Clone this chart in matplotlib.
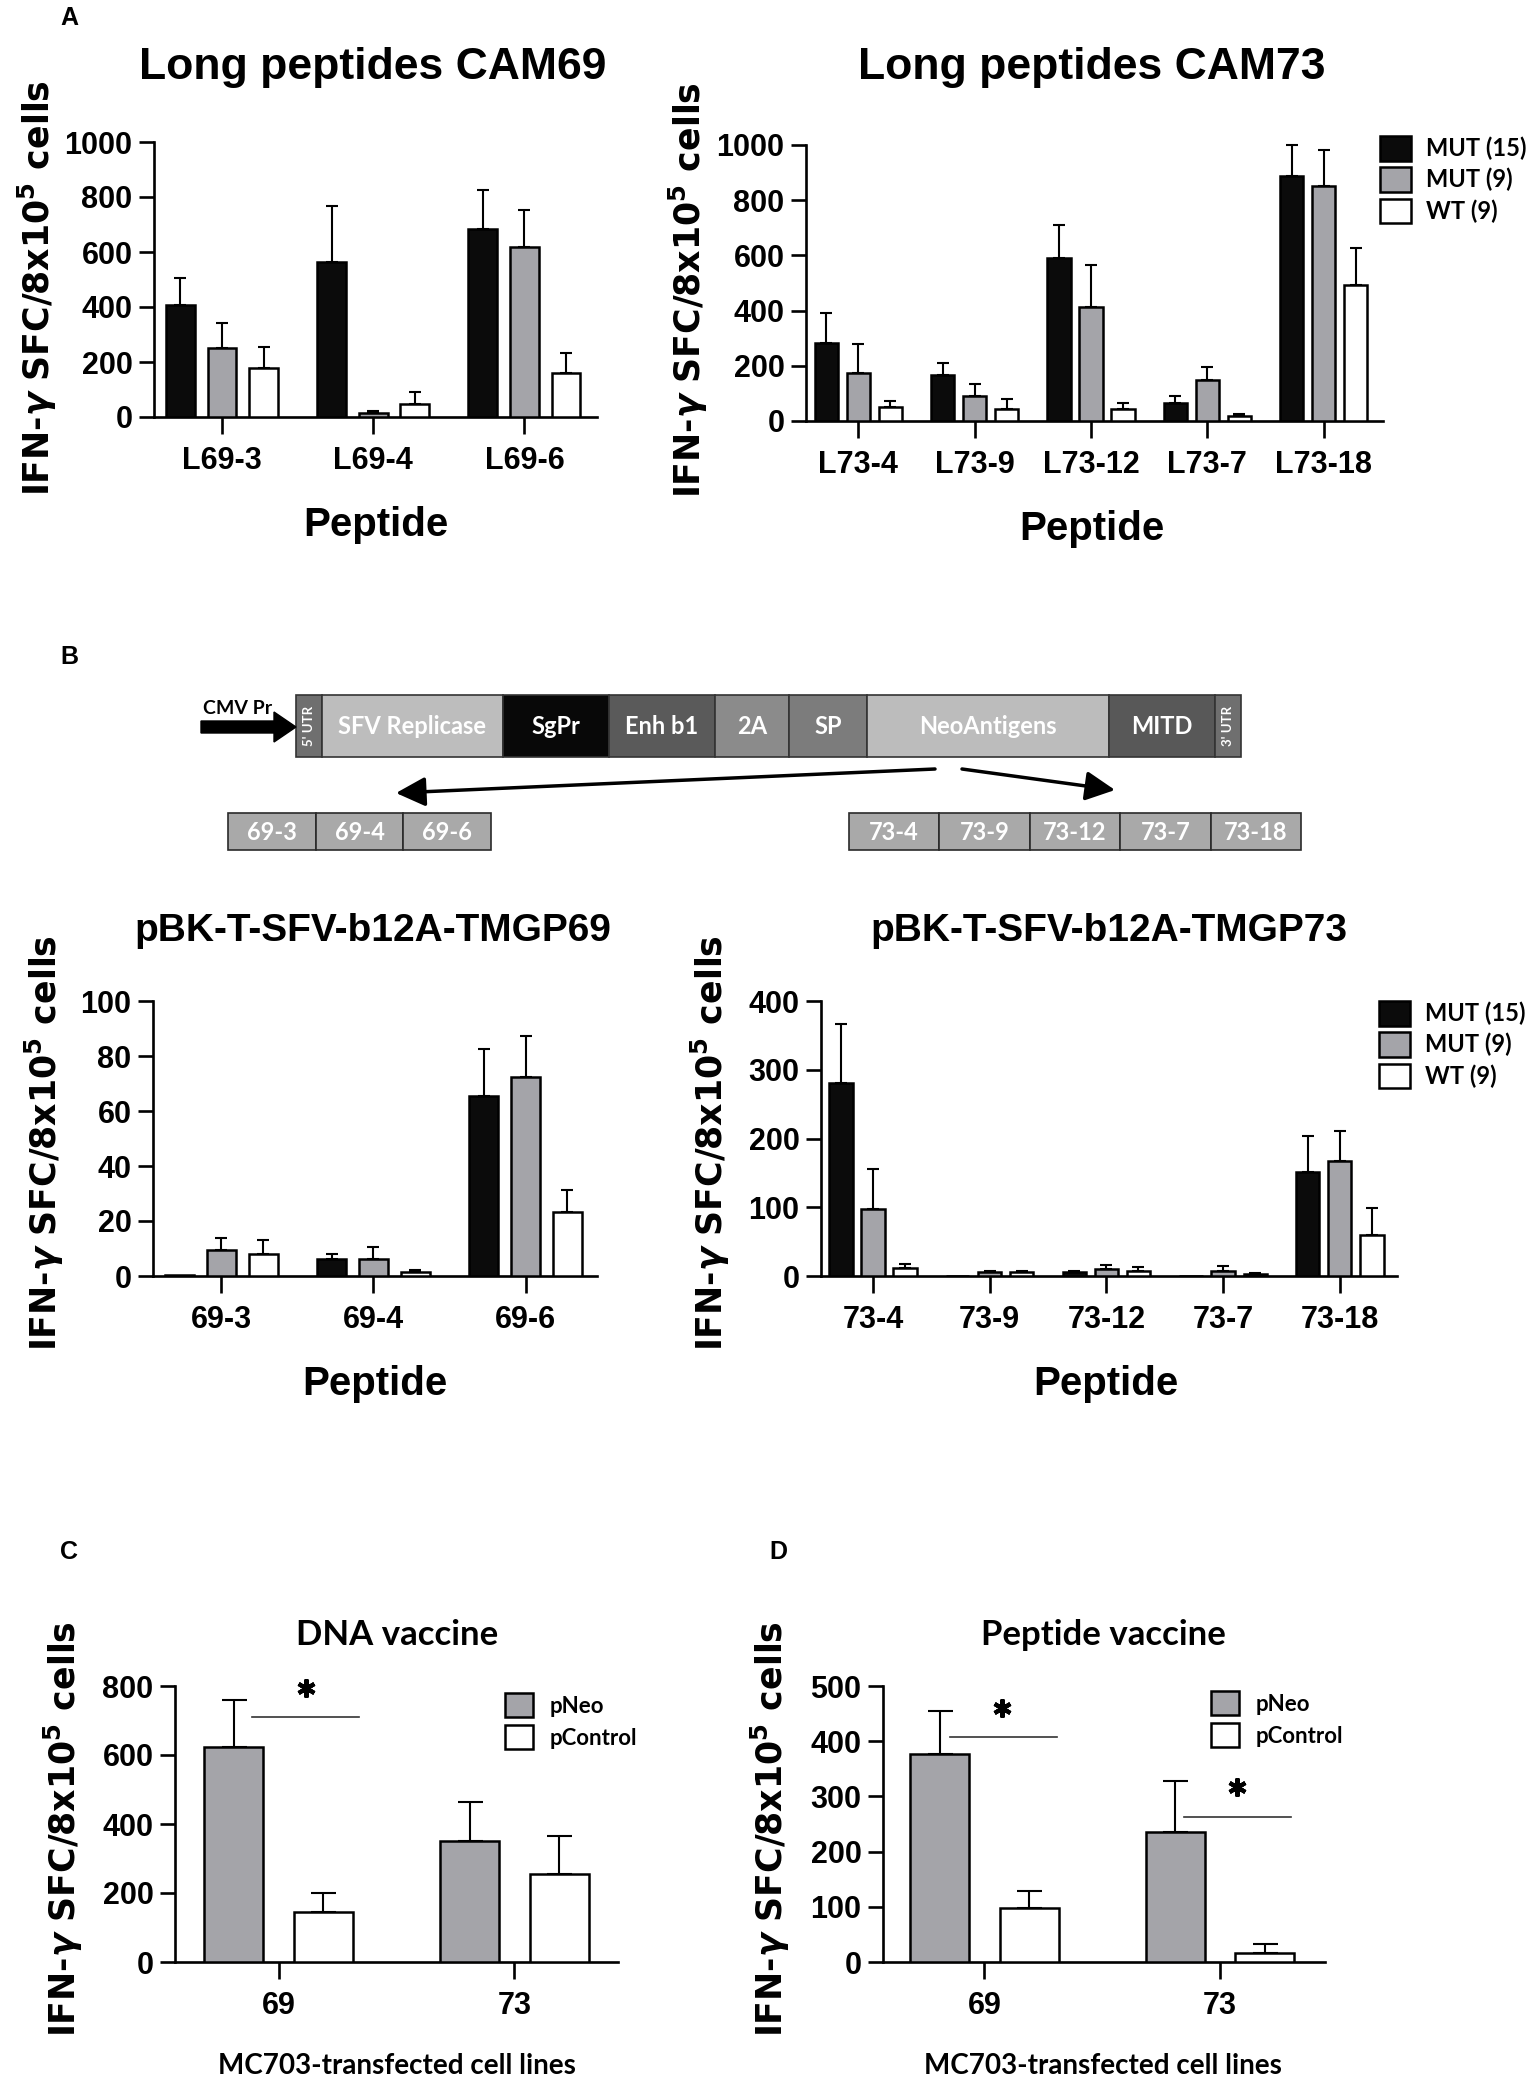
import numpy as np
import matplotlib
matplotlib.use('Agg')
from matplotlib import pyplot as plt
from matplotlib import font_manager
from matplotlib.patches import Rectangle

W, H = 1535, 2075
ARIAL = 'Liberation Sans'
WIDE = 'DejaVu Sans'


def bold_file(cands):
    # path of a real bold face of the first installed family in cands
    for c in cands:
        for f in font_manager.fontManager.ttflist:
            base = f.fname.split('/')[-1].lower()
            if f.name == c and 'bold' in base and 'italic' not in base \
                    and 'semi' not in base and 'extra' not in base:
                return f.fname
    return None


_cal = bold_file(['Lato', 'Open Sans', 'Noto Sans', 'Roboto'])


def cal(size):
    if _cal:
        return font_manager.FontProperties(fname=_cal, size=size)
    return font_manager.FontProperties(family=ARIAL, weight='bold', size=size)


plt.rcParams['font.family'] = [ARIAL, 'DejaVu Sans']
plt.rcParams['font.weight'] = 'bold'

# ---- data -------------------------------------------------------------
series_names = ['MUT (15)', 'MUT (9)', 'WT (9)']

# A: long peptides
a69_labels = ['L69-3', 'L69-4', 'L69-6']
a69_mut15 = [406, 562, 682]
a69_mut15_sem = [100, 205, 145]
a69_mut9 = [250, 13, 620]
a69_mut9_sem = [91, 10, 134]
a69_wt9 = [179, 47, 160]
a69_wt9_sem = [75, 44, 71]

a73_labels = ['L73-4', 'L73-9', 'L73-12', 'L73-7', 'L73-18']
a73_mut15 = [282, 168, 592, 65, 887]
a73_mut15_sem = [110, 42, 117, 27, 113]
a73_mut9 = [175, 91, 414, 150, 850]
a73_mut9_sem = [104, 42, 150, 45, 133]
a73_wt9 = [49, 45, 43, 17, 492]
a73_wt9_sem = [22, 34, 22, 9, 133]

# B: DNA constructs
b69_labels = ['69-3', '69-4', '69-6']
b69_mut15 = [0.3, 6.2, 65.6]
b69_mut15_sem = [0, 1.9, 16.9]
b69_mut9 = [9.4, 6.2, 72.5]
b69_mut9_sem = [4.5, 4.3, 14.8]
b69_wt9 = [7.9, 1.4, 23.1]
b69_wt9_sem = [5.1, 0.8, 8.1]

b73_labels = ['73-4', '73-9', '73-12', '73-7', '73-18']
b73_mut15 = [281, 0, 5.3, 0, 151]
b73_mut15_sem = [85, 0, 1.5, 0, 53]
b73_mut9 = [97, 5.5, 10, 7.7, 168]
b73_mut9_sem = [59, 2.5, 6, 6.8, 43]
b73_wt9 = [12, 6, 7.7, 3, 60]
b73_wt9_sem = [5.4, 2, 5.3, 1.3, 39]

# C / D: vaccines
cd_labels = ['69', '73']
cd_names = ['pNeo', 'pControl']
c_pneo = [624, 351]
c_pneo_sem = [135, 114]
c_pcontrol = [146, 256]
c_pcontrol_sem = [54, 110]
d_pneo = [377, 235]
d_pneo_sem = [77, 92]
d_pcontrol = [97, 16]
d_pcontrol_sem = [32, 16]

# significance bars: (start, end, y) in axis units, star (x, y)
c_sig = [(-0.115, 0.34, 711)]
c_star = [(0.115, 794)]
d_sig = [(-0.144, 0.31, 408), (0.847, 1.30, 262)]
d_star = [(0.076, 461), (1.072, 317)]

# construct diagram
seg_labels = ["5' UTR", 'SFV Replicase', 'SgPr', 'Enh b1', '2A', 'SP',
              'NeoAntigens', 'MITD', "3' UTR"]
seg_edges = [296, 322, 503, 609, 715, 789, 867, 1109, 1215, 1241]
seg_colors = ['#6f6f6f', '#bdbdbd', '#080808', '#5a5a5a', '#8b8b8b',
              '#7c7c7c', '#bcbcbc', '#585858', '#6f6f6f']

BLACK = '#0b0b0b'
GRAY = '#a4a4a9'
WHITE = '#ffffff'

fig = plt.figure(figsize=(W / 100, H / 100), dpi=100)
bg = fig.add_axes([0, 0, 1, 1], zorder=0)
bg.set_xlim(0, W)
bg.set_ylim(H, 0)
bg.axis('off')


def px_axes(x0, x1, ytop, ybot):
    return fig.add_axes([x0 / W, 1 - ybot / H, (x1 - x0) / W, (ybot - ytop) / H], zorder=2)


def bar_panel(ax, labels, means, sems, colors, offsets, width, ymax, ystep, xlim, cap):
    x = np.arange(len(labels))
    bars = []
    for m, s, c, off in zip(means, sems, colors, offsets):
        m = np.asarray(m, float)
        s = np.asarray(s, float)
        b = ax.bar(x + off, m, width, color=c, edgecolor='black', linewidth=1.8, zorder=3)
        bars.append(b)
        k = s > 0
        ax.errorbar(x[k] + off, m[k], yerr=[np.zeros(k.sum()), s[k]], fmt='none',
                    ecolor='black', elinewidth=1.5, capsize=cap, capthick=1.5,
                    zorder=2, clip_on=False)
    ax.set_xlim(*xlim)
    ax.set_ylim(0, ymax)
    ax.set_yticks(np.arange(0, ymax + 1, ystep))
    ax.set_xticks(x)
    ax.set_xticklabels(labels)
    for sp in ['top', 'right']:
        ax.spines[sp].set_visible(False)
    for sp in ['left', 'bottom']:
        ax.spines[sp].set_linewidth(1.9)
    ax.tick_params(axis='y', length=10.5, width=1.9, pad=5, labelsize=22)
    ax.tick_params(axis='x', length=12, width=1.9, pad=9, labelsize=22)
    ax.patch.set_alpha(0)
    return bars


def add_legend(ax, bars, names, x, y, fs, hl, hh, ls, tp):
    ax.legend(bars, names, loc='upper left', bbox_to_anchor=(x / W, 1 - y / H),
              bbox_transform=fig.transFigure, frameon=False, borderpad=0,
              borderaxespad=0, handlelength=hl, handleheight=hh, labelspacing=ls,
              handletextpad=tp, prop=cal(fs))


YLAB = r'IFN-$\gamma$ SFC/8x10$^{\mathbf{5}}$ cells'


def ylab(x, y):
    bg.text(x, y, YLAB, rotation=90, ha='center', va='center', family=WIDE,
            weight='bold', fontsize=25)


def title(x, y, s, fs):
    bg.text(x, y, s, ha='center', va='center', fontsize=fs, weight='bold', family=ARIAL)


def ctext(x, y, s, fs, **kw):
    bg.text(x, y, s, ha='center', va='center', fontproperties=cal(fs), **kw)


def letter(x, y, s):
    bg.text(x, y, s, fontsize=18, weight='bold', ha='center', va='center')


colors3 = [BLACK, GRAY, WHITE]
off3 = [-0.275, 0, 0.275]

# ---- panel A ----------------------------------------------------------
ax = px_axes(154, 597, 142, 417)
bar_panel(ax, a69_labels, [a69_mut15, a69_mut9, a69_wt9],
          [a69_mut15_sem, a69_mut9_sem, a69_wt9_sem], colors3, off3, 0.19,
          1000, 200, (-0.45, 2.48), 4)
ax = px_axes(806, 1383, 145, 421)
bars = bar_panel(ax, a73_labels, [a73_mut15, a73_mut9, a73_wt9],
                 [a73_mut15_sem, a73_mut9_sem, a73_wt9_sem], colors3, off3, 0.2,
                 1000, 200, (-0.45, 4.51), 4)
add_legend(ax, bars, series_names, 1380, 136, 17, 1.31, 1.23, 0.28, 0.64)

letter(69, 18, 'A')
title(373, 68, 'Long peptides CAM69', 32)
title(1092, 68, 'Long peptides CAM73', 32)
ylab(37, 288)
ylab(688, 290)
title(376, 525, 'Peptide', 29)
title(1092, 529, 'Peptide', 29)

# ---- panel B diagram --------------------------------------------------
letter(69, 657, 'B')
bar_top, bar_bot = 695, 757
for i, lab in enumerate(seg_labels):
    x0, x1 = seg_edges[i], seg_edges[i + 1]
    bg.add_patch(Rectangle((x0, bar_top), x1 - x0, bar_bot - bar_top,
                           facecolor=seg_colors[i], edgecolor='#333333', lw=1.2))
    if 'UTR' in lab:
        ctext((x0 + x1) / 2, (bar_top + bar_bot) / 2, lab, 9.5, rotation=90, color='white')
    else:
        ctext((x0 + x1) / 2, (bar_top + bar_bot) / 2, lab, 17, color='white')

bg.arrow(201, 727, 95, 0, width=12, head_width=30, head_length=22,
         length_includes_head=True, color='black')
ctext(238, 708, 'CMV Pr', 14)

bg.annotate('', xy=(396, 793), xytext=(935, 769),
            arrowprops=dict(arrowstyle='-|>,head_length=0.9,head_width=0.45',
                            mutation_scale=20, lw=2.5, color='black', shrinkA=0, shrinkB=0))
bg.annotate('', xy=(1115, 790), xytext=(962, 769),
            arrowprops=dict(arrowstyle='-|>,head_length=0.9,head_width=0.45',
                            mutation_scale=20, lw=2.5, color='black', shrinkA=0, shrinkB=0))

pep_boxes = [(b69_labels, 228, 87.7), (b73_labels, 849, 90.4)]
for labs, xs, bw in pep_boxes:
    for i, lab in enumerate(labs):
        bg.add_patch(Rectangle((xs + i * bw, 813), bw, 37, facecolor='#a9a9a9',
                               edgecolor='#2a2a2a', lw=1.2))
        ctext(xs + (i + 0.5) * bw, 832, lab, 17, color='white')

# ---- panel B charts ---------------------------------------------------
ax = px_axes(153, 597, 1001, 1276)
bar_panel(ax, b69_labels, [b69_mut15, b69_mut9, b69_wt9],
          [b69_mut15_sem, b69_mut9_sem, b69_wt9_sem], colors3, off3, 0.19,
          100, 20, (-0.45, 2.47), 4.5)
ax = px_axes(821, 1397, 1001, 1276)
bars = bar_panel(ax, b73_labels, [b73_mut15, b73_mut9, b73_wt9],
                 [b73_mut15_sem, b73_mut9_sem, b73_wt9_sem], colors3, off3, 0.2,
                 400, 100, (-0.445, 4.49), 4.5)
add_legend(ax, bars, series_names, 1379, 1001, 17, 1.31, 1.23, 0.28, 0.64)

title(373, 931, 'pBK-T-SFV-b12A-TMGP69', 28)
title(1109, 931, 'pBK-T-SFV-b12A-TMGP73', 28)
ylab(44, 1143)
ylab(710, 1143)
title(375, 1384, 'Peptide', 29)
title(1106, 1384, 'Peptide', 29)

# ---- panels C and D ---------------------------------------------------
colors2 = [GRAY, WHITE]
off2 = [-0.19, 0.19]
panels_cd = [
    ((175, 618), [c_pneo, c_pcontrol], [c_pneo_sem, c_pcontrol_sem], 800, 200,
     (-0.44, 1.44), c_sig, c_star, (505, 1693), 'C', 69, 'DNA vaccine', 397, 63),
    ((883, 1325), [d_pneo, d_pcontrol], [d_pneo_sem, d_pcontrol_sem], 500, 100,
     (-0.43, 1.445), d_sig, d_star, (1211, 1691), 'D', 778, 'Peptide vaccine', 1103, 770),
]
for (x0, x1), means, sems, ymax, ystep, xlim, sig, star, leg, lt, lx, ttl, tx, yx in panels_cd:
    ax = px_axes(x0, x1, 1686, 1962)
    bars = bar_panel(ax, cd_labels, means, sems, colors2, off2, 0.25, ymax, ystep, xlim, 9)
    for s0, s1, sy in sig:
        ax.plot([s0, s1], [sy, sy], color='#333333', lw=1.2, clip_on=False, zorder=4)
    for sx, sy in star:
        ax.plot(sx, sy, marker=(6, 2, 0), markersize=13, mew=3, color='black',
                clip_on=False, zorder=4)
    add_legend(ax, bars, cd_names, leg[0], leg[1], 16, 1.26, 1.3, 0.36, 0.77)
    letter(lx, 1552, lt)
    ctext(tx, 1635, ttl, 25)
    ylab(yx, 1829)
    ctext(tx, 2066, 'MC703-transfected cell lines', 20)

fig.savefig('out.png', dpi=100)
